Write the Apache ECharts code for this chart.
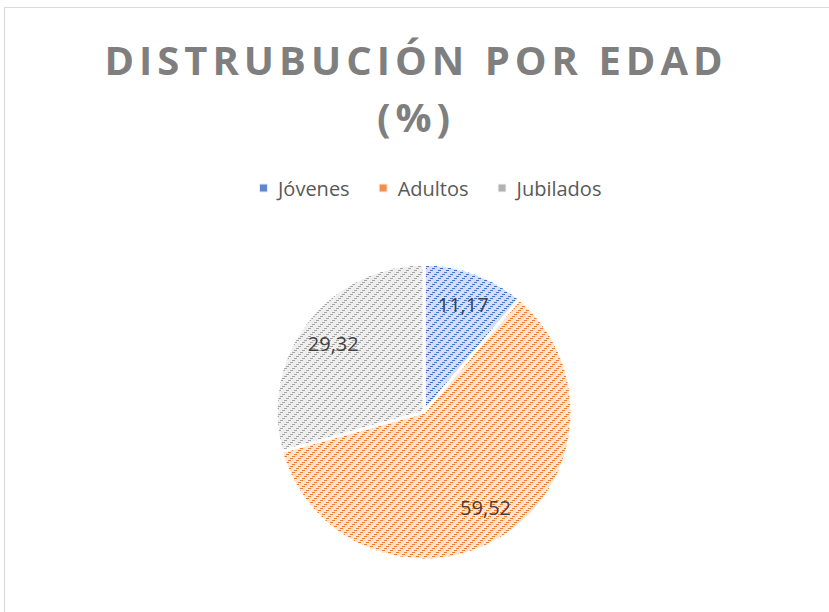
<!DOCTYPE html>
<html>
<head>
<meta charset="utf-8">
<script src="https://cdn.jsdelivr.net/npm/echarts@6/dist/echarts.min.js"></script>
<style>
html,body{margin:0;padding:0;background:#fff;}
#c{width:829px;height:612px;}
</style>
</head>
<body>
<div id="c"></div>
<script>
const titleLines = ['DISTRUBUCIÓN POR EDAD', '(%)'];
const categories = ['Jóvenes', 'Adultos', 'Jubilados'];
const values = [11.17, 59.52, 29.32];
const baseColors = ['#4472C4', '#ED7D31', '#A5A5A5'];
const tintColors = ['#d5def3', '#fde3d2', '#efefef'];

const chart = echarts.init(document.getElementById('c'), null, {renderer: 'svg'});

const fmt = v => v.toFixed(2).replace('.', ',');

const mainData = categories.map((name, i) => ({
  name: name,
  value: values[i],
  itemStyle: {
    color: tintColors[i],
    borderColor: '#ffffff',
    borderWidth: 3,
    decal: {
      symbol: 'rect',
      symbolSize: 1,
      color: baseColors[i],
      dashArrayX: [[1, 5, 2, 0], [0, 4, 3, 1], [0, 2, 3, 3], [3, 5]],
      dashArrayY: [1, 1],
      rotation: 0
    }
  }
}));

const labelData = categories.map((name, i) => ({
  name: name,
  value: values[i]
}));

chart.on('finished', function () {
  const texts = document.querySelectorAll('#c svg text');
  texts.forEach(t => {
    const s = (t.textContent || '').trim();
    if (titleLines.indexOf(s) >= 0) {
      t.style.letterSpacing = '5px';
    }
  });
});

chart.setOption({
  animation: false,
  backgroundColor: '#ffffff',
  graphic: [{
    type: 'rect',
    shape: {x: 4.5, y: 7.5, width: 900, height: 700},
    style: {fill: 'none', stroke: '#d9d9d9', lineWidth: 1},
    silent: true,
    z: -10
  }],
  title: {
    text: titleLines.join('\n'),
    left: 411,
    textAlign: 'center',
    top: 26,
    textStyle: {
      fontFamily: 'Open Sans',
      fontWeight: 'bold',
      fontSize: 40,
      lineHeight: 57,
      color: '#7f7f7f'
    }
  },
  legend: {
    data: categories.map((name, i) => ({
      name: name,
      itemStyle: {color: baseColors[i], decal: 'none', opacity: 0.85}
    })),
    top: 173,
    left: 253,
    itemWidth: 9,
    itemHeight: 9,
    itemGap: 28,
    icon: 'rect',
    textStyle: {fontFamily: 'Open Sans', fontSize: 20, color: '#595959', padding: [0, 0, 0, 5]}
  },
  series: [{
    type: 'pie',
    center: [424, 412],
    radius: [0, 148],
    startAngle: 90,
    clockwise: true,
    label: {show: false},
    labelLine: {show: false},
    data: mainData
  }, {
    type: 'pie',
    center: [424, 412],
    radius: [74, 148],
    startAngle: 90,
    clockwise: true,
    silent: true,
    legendHoverLink: false,
    itemStyle: {color: 'rgba(0,0,0,0)', borderWidth: 0},
    label: {
      show: true,
      position: 'inside',
      fontFamily: 'Open Sans',
      fontSize: 20,
      color: '#404040',
      formatter: p => fmt(p.value)
    },
    labelLine: {show: false},
    data: labelData
  }]
});
</script>
</body>
</html>
